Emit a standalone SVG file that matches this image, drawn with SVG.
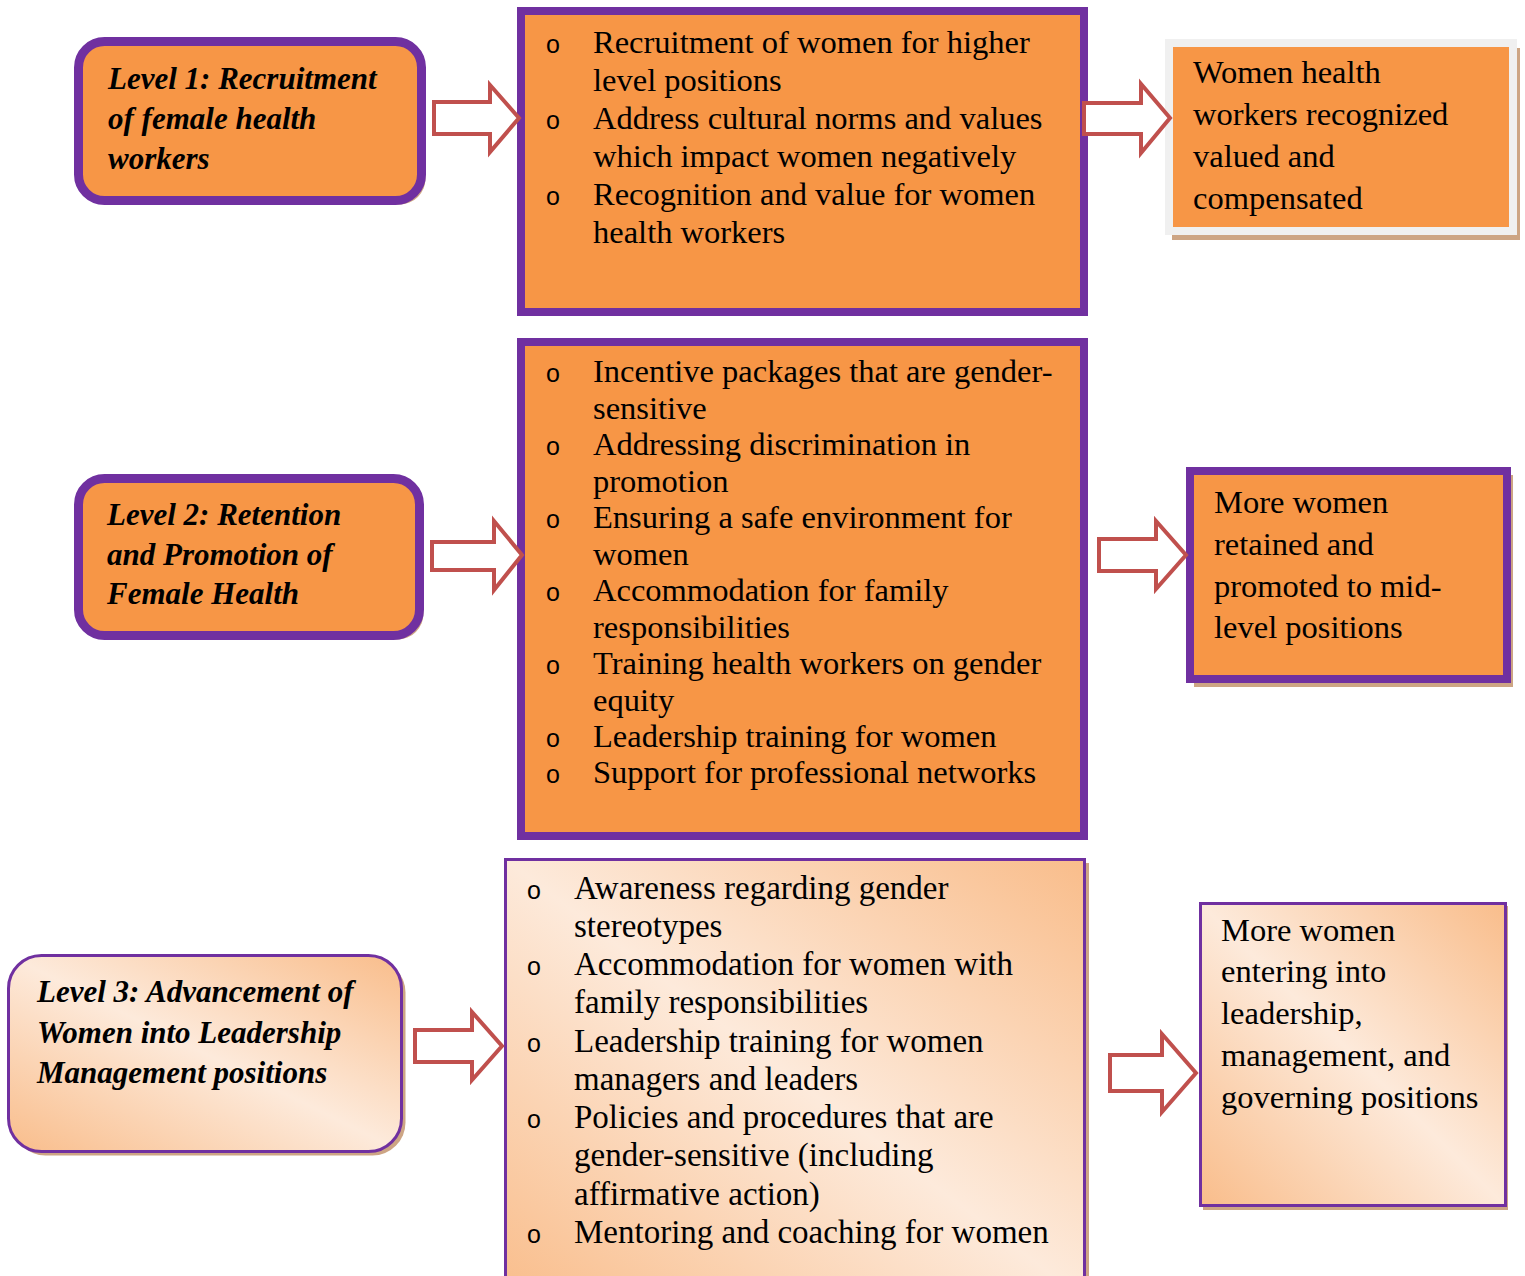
<svg xmlns="http://www.w3.org/2000/svg" width="1525" height="1276" viewBox="0 0 1525 1276">
<defs>
<linearGradient id="grad" x1="1" y1="0" x2="0" y2="1">
<stop offset="0" stop-color="#F9BD8B"/>
<stop offset="0.5" stop-color="#FDEADB"/>
<stop offset="1" stop-color="#F9BD8B"/>
</linearGradient>
<style>
.shadow{fill:#CDA584}
.lvl{fill:#F79646;stroke:#7030A0;stroke-width:9}
.mid{fill:#F79646;stroke:#7030A0;stroke-width:8}
.grad{fill:url(#grad);stroke:#7030A0;stroke-width:3}
.arrow{fill:#FFFFFF;stroke:#C0504D;stroke-width:4;stroke-linejoin:miter}
.t{font-family:"Liberation Serif","Times New Roman",serif;font-size:32.5px;fill:#000}
.t3{font-family:"Liberation Serif","Times New Roman",serif;font-size:33px;fill:#000}
.b{font-family:"Liberation Serif","Times New Roman",serif;font-size:31px;font-weight:bold;font-style:italic;fill:#000}
.o{font-family:"Liberation Sans",Arial,sans-serif;font-size:25px;fill:#000;text-anchor:middle}
</style>
</defs>

<g id="level1">
<rect class="shadow" x="82.5" y="45.5" width="343" height="159" rx="26"/>
<rect class="lvl" x="78.5" y="41.5" width="343" height="159" rx="26"/>
<text class="b" x="108" y="89">Level 1: Recruitment</text>
<text class="b" x="108" y="129">of female health</text>
<text class="b" x="108" y="169">workers</text>
</g>

<g id="actions1">
<rect class="shadow" x="525" y="15" width="563" height="301"/>
<rect class="mid" x="521" y="11" width="563" height="301"/>
<text class="o" x="553" y="53">o</text>
<text class="t" x="593" y="53">Recruitment of women for higher</text>
<text class="t" x="593" y="91">level positions</text>
<text class="o" x="553" y="129">o</text>
<text class="t" x="593" y="129">Address cultural norms and values</text>
<text class="t" x="593" y="167">which impact women negatively</text>
<text class="o" x="553" y="205">o</text>
<text class="t" x="593" y="205">Recognition and value for women</text>
<text class="t" x="593" y="243">health workers</text>
</g>

<g id="outcome1">
<rect class="shadow" x="1172" y="48" width="348" height="192"/>
<rect x="1169" y="43" width="344" height="188" fill="#F79646" stroke="#F0F0F0" stroke-width="8"/>
<text class="t" x="1193" y="83">Women health</text>
<text class="t" x="1193" y="125">workers recognized</text>
<text class="t" x="1193" y="167">valued and</text>
<text class="t" x="1193" y="209">compensated</text>
</g>

<g id="level2">
<rect class="shadow" x="82.5" y="482.5" width="341" height="157" rx="26"/>
<rect class="lvl" x="78.5" y="478.5" width="341" height="157" rx="26"/>
<text class="b" x="107" y="525">Level 2: Retention</text>
<text class="b" x="107" y="565">and Promotion of</text>
<text class="b" x="107" y="604">Female Health</text>
</g>

<g id="actions2">
<rect class="shadow" x="525" y="346" width="563" height="494"/>
<rect class="mid" x="521" y="342" width="563" height="494"/>
<text class="o" x="553" y="382">o</text>
<text class="t" x="593" y="382">Incentive packages that are gender-</text>
<text class="t" x="593" y="419">sensitive</text>
<text class="o" x="553" y="455">o</text>
<text class="t" x="593" y="455">Addressing discrimination in</text>
<text class="t" x="593" y="492">promotion</text>
<text class="o" x="553" y="528">o</text>
<text class="t" x="593" y="528">Ensuring a safe environment for</text>
<text class="t" x="593" y="565">women</text>
<text class="o" x="553" y="601">o</text>
<text class="t" x="593" y="601">Accommodation for family</text>
<text class="t" x="593" y="638">responsibilities</text>
<text class="o" x="553" y="674">o</text>
<text class="t" x="593" y="674">Training health workers on gender</text>
<text class="t" x="593" y="711">equity</text>
<text class="o" x="553" y="747">o</text>
<text class="t" x="593" y="747">Leadership training for women</text>
<text class="o" x="553" y="783">o</text>
<text class="t" x="593" y="783">Support for professional networks</text>
</g>

<g id="outcome2">
<rect class="shadow" x="1194" y="475" width="319" height="212"/>
<rect class="mid" x="1190" y="471" width="317" height="208"/>
<text class="t" x="1214" y="513">More women</text>
<text class="t" x="1214" y="555">retained and</text>
<text class="t" x="1214" y="597">promoted to mid-</text>
<text class="t" x="1214" y="638">level positions</text>
</g>

<g id="level3">
<rect class="shadow" x="12.5" y="959.5" width="393" height="196" rx="33"/>
<rect class="grad" x="8.5" y="955.5" width="393" height="196" rx="33"/>
<text class="b" x="37" y="1002">Level 3: Advancement of</text>
<text class="b" x="37" y="1043">Women into Leadership</text>
<text class="b" x="37" y="1083">Management positions</text>
</g>

<g id="actions3">
<rect class="shadow" x="509" y="863" width="580" height="440"/>
<rect class="grad" x="505.5" y="859.5" width="579" height="440"/>
<text class="o" x="534" y="899">o</text>
<text class="t3" x="574" y="899">Awareness regarding gender</text>
<text class="t3" x="574" y="937">stereotypes</text>
<text class="o" x="534" y="975">o</text>
<text class="t3" x="574" y="975">Accommodation for women with</text>
<text class="t3" x="574" y="1013">family responsibilities</text>
<text class="o" x="534" y="1052">o</text>
<text class="t3" x="574" y="1052">Leadership training for women</text>
<text class="t3" x="574" y="1090">managers and leaders</text>
<text class="o" x="534" y="1128">o</text>
<text class="t3" x="574" y="1128">Policies and procedures that are</text>
<text class="t3" x="574" y="1166">gender-sensitive (including</text>
<text class="t3" x="574" y="1205">affirmative action)</text>
<text class="o" x="534" y="1243">o</text>
<text class="t3" x="574" y="1243">Mentoring and coaching for women</text>
</g>

<g id="outcome3">
<rect class="shadow" x="1203" y="906" width="305" height="304"/>
<rect class="grad" x="1200.5" y="903.5" width="305" height="302"/>
<text class="t" x="1221" y="941">More women</text>
<text class="t" x="1221" y="982">entering into</text>
<text class="t" x="1221" y="1024">leadership,</text>
<text class="t" x="1221" y="1066">management, and</text>
<text class="t" x="1221" y="1108">governing positions</text>
</g>

<g id="connectors">
<polygon class="arrow" points="434,102 490,102 490,85 519,118 490,152 490,134 434,134"/>
<polygon class="arrow" points="1084,103 1141,103 1141,84 1170,118 1141,153 1141,134 1084,134"/>
<polygon class="arrow" points="432,542 494,542 494,521 522,555 494,590 494,570 432,570"/>
<polygon class="arrow" points="1099,539 1156,539 1156,521 1186,555 1156,589 1156,571 1099,571"/>
<polygon class="arrow" points="415,1030 472,1030 472,1012 502,1046 472,1080 472,1062 415,1062"/>
<polygon class="arrow" points="1110,1055 1162,1055 1162,1034 1196,1073 1162,1112 1162,1091 1110,1091"/>
</g>
</svg>
